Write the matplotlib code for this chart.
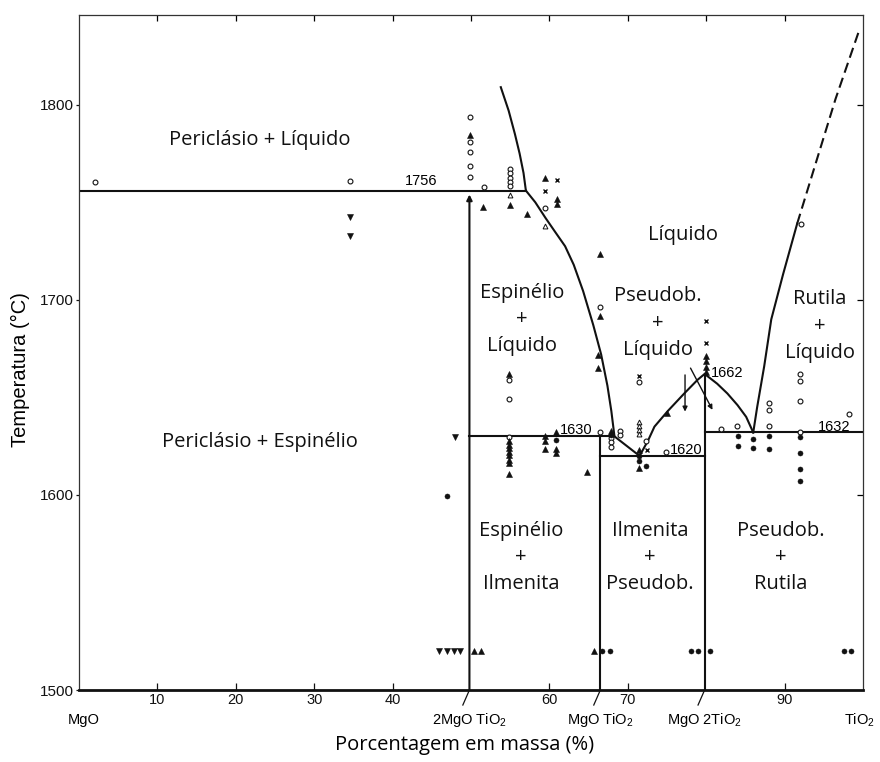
import matplotlib
matplotlib.use("Agg")
import matplotlib.pyplot as plt

plt.rcParams['font.family'] = ['Liberation Sans', 'DejaVu Sans']
plt.rcParams['mathtext.fontset'] = 'custom'
plt.rcParams['mathtext.rm'] = 'Liberation Sans'
plt.rcParams['mathtext.it'] = 'Liberation Sans:italic'

LABEL_FONT = ['Open Sans', 'DejaVu Sans']

# ---- compositions of the compounds (wt% TiO2) ----
x_mg2tio4 = 49.8
x_mgtio3 = 66.5
x_mgti2o5 = 79.8

# ---- invariant temperatures (°C) ----
T_eut_per = 1756
T_peritectic = 1630
T_eut_ilm = 1620
T_melt_pse = 1662
T_eut_rut = 1632

# liquid compositions at the invariants
x_liq_per = 57.0
x_liq_peri = 68.3
x_liq_ilm = 71.5
x_liq_rut = 86.0

# ---- liquidus curves ----
per_liq_x = [53.8, 54.8, 55.6, 56.2, 56.7, x_liq_per]
per_liq_T = [1809, 1797, 1785, 1775, 1765, T_eut_per]

spi_liq_x = [x_liq_per, 58.2, 59.5, 60.7, 62.0, 63.1, 64.3, 65.6, 66.6, 67.4, 67.9, x_liq_peri]
spi_liq_T = [T_eut_per, 1750, 1742, 1735, 1727.5, 1718, 1704.5, 1687, 1672, 1656, 1643, T_peritectic]

ilm_liq_x = [x_liq_peri, x_liq_ilm]
ilm_liq_T = [T_peritectic, T_eut_ilm]

pse_liq_x = [x_liq_ilm, 72.6, 73.4, 75.1, 77.2, 78.9, x_mgti2o5, 81.4, 82.7, 84.0, 85.1, x_liq_rut]
pse_liq_T = [T_eut_ilm, 1628, 1635, 1643, 1652, 1659, T_melt_pse, 1657, 1652, 1646, 1640, T_eut_rut]

rut_liq_x = [x_liq_rut, 86.5, 87.4, 88.3, 89.8, 91.6]
rut_liq_T = [T_eut_rut, 1645, 1666, 1690, 1713, 1739]

rut_ext_x = [91.6, 94.2, 96.5, 99.5]
rut_ext_T = [1739, 1773, 1803, 1838]

# ---- experimental points ----
open_circ_x = [2.0, 34.6, 49.9, 49.9, 49.9, 49.9, 49.9, 51.6,
               55.0, 55.0, 55.0, 55.0, 55.0, 59.5, 66.5,
               54.9, 54.9, 54.9, 71.4, 66.4, 67.9, 67.9, 67.9,
               69.0, 69.0, 72.3, 74.9, 81.9, 83.9,
               88.0, 88.0, 88.0, 92.0, 92.0, 92.0, 92.0, 98.2, 92.1]
open_circ_T = [1760.5, 1760.7, 1793.7, 1781, 1776, 1768.4, 1763.2, 1757.8,
               1767, 1764.8, 1762.6, 1760.4, 1758.5, 1747.3, 1696.2,
               1659, 1649.2, 1629.6, 1658, 1632, 1629, 1627, 1624.8,
               1633, 1630.5, 1627.8, 1622.2, 1633.8, 1635.4,
               1647, 1643.5, 1635.4, 1662, 1658.5, 1648.2, 1632, 1641.5, 1739]

open_tri_x = [55.0, 59.5, 71.4, 71.4, 71.4, 71.4]
open_tri_T = [1753.8, 1737.6, 1637.6, 1635.4, 1633.3, 1631.1]

fill_tri_x = [49.9, 51.5, 55.0, 57.1, 59.5, 61.0, 61.0, 66.5,
              66.5, 66.2, 66.2, 54.9, 75.0,
              80.0, 80.0, 80.0, 80.0,
              54.9, 54.9, 54.9, 54.9, 54.9, 54.9, 54.9, 54.9,
              59.4, 59.4, 59.4, 60.9, 60.9, 60.9, 64.8, 67.9,
              71.4, 71.4, 50.4, 51.3, 65.7]
fill_tri_T = [1784.5, 1747.5, 1748.7, 1744, 1762.4, 1751.8, 1749.1, 1723.6,
              1691.5, 1671.8, 1665, 1662, 1642.2,
              1671, 1668.4, 1665.8, 1663.2,
              1627.4, 1625.6, 1624, 1622.2, 1620.5, 1618, 1616.3, 1610.6,
              1630.3, 1627.4, 1623.6, 1632, 1623.6, 1621.7, 1611.9, 1633,
              1623, 1613.7, 1520, 1520, 1520]

down_tri_x = [34.6, 34.6, 48.0, 45.9, 46.9, 47.8, 48.6]
down_tri_T = [1742.7, 1732.8, 1629.6, 1520, 1520, 1520, 1520]

fill_circ_x = [46.9, 67.9, 72.3, 60.9, 71.4, 71.4,
               84.0, 84.0, 86.0, 86.0, 88.0, 88.0,
               92.0, 92.0, 92.0, 92.0,
               66.7, 67.7, 78.1, 78.9, 80.5, 97.6, 98.5]
fill_circ_T = [1599.5, 1630.8, 1614.9, 1628.2, 1620, 1617.5,
               1630.3, 1625.3, 1628.5, 1624.3, 1630.3, 1623.4,
               1629.6, 1621.7, 1613.2, 1607.2,
               1520, 1520, 1520, 1520, 1520, 1520, 1520]

cross_x = [59.5, 61.0, 71.4, 72.5, 80.0, 80.0]
cross_T = [1755.9, 1761.2, 1661, 1623, 1688.9, 1677.8]

# ---- axis ticks and compound labels ----
x_ticks = [10, 20, 30, 40, 60, 70, 90]
y_ticks = [1500, 1600, 1700, 1800]
compound_x = [0.6, x_mg2tio4, x_mgtio3, x_mgti2o5, 99.6]
compound_labels = ['MgO', '2MgO TiO$_2$', 'MgO TiO$_2$', 'MgO 2TiO$_2$', 'TiO$_2$']
leader_x = [x_mg2tio4, x_mgtio3, x_mgti2o5]

# ---- phase-field labels ----
field_labels = [
    ('Periclásio + Líquido', 23.1, 1782),
    ('Periclásio + Espinélio', 23.1, 1627),
    ('Líquido', 77.1, 1733),
    ('Espinélio\n+\nLíquido', 56.5, 1690),
    ('Pseudob.\n+\nLíquido', 73.8, 1688),
    ('Rutila\n+\nLíquido', 94.5, 1686.5),
    ('Espinélio\n+\nIlmenita', 56.4, 1568),
    ('Ilmenita\n+\nPseudob.', 72.8, 1568),
    ('Pseudob.\n+\nRutila', 89.5, 1568),
]

fig = plt.figure(figsize=(8.8, 7.62), dpi=100)
ax = fig.add_axes([79 / 880, 1 - 690 / 762, 784 / 880, 675 / 762])
ax.set_xlim(0, 100)
ax.set_ylim(1500, 1846)

k = '#111111'
lw = 1.5

# liquidus curves
ax.plot(per_liq_x, per_liq_T, color=k, lw=lw)
ax.plot(spi_liq_x, spi_liq_T, color=k, lw=lw)
ax.plot(ilm_liq_x, ilm_liq_T, color=k, lw=lw)
ax.plot(pse_liq_x, pse_liq_T, color=k, lw=lw)
ax.plot(rut_liq_x, rut_liq_T, color=k, lw=lw)
ax.plot(rut_ext_x, rut_ext_T, color=k, lw=lw, dashes=(5, 2.6))

# invariant horizontals
ax.plot([0, x_liq_per], [T_eut_per] * 2, color=k, lw=lw)
ax.plot([x_mg2tio4, x_liq_peri], [T_peritectic] * 2, color=k, lw=lw)
ax.plot([x_mgtio3, x_mgti2o5], [T_eut_ilm] * 2, color=k, lw=lw)
ax.plot([x_mgti2o5, 100], [T_eut_rut] * 2, color=k, lw=lw)

# compound verticals
ax.annotate('', xy=(x_mg2tio4, T_eut_per - 2), xytext=(x_mg2tio4, 1500),
            arrowprops=dict(arrowstyle='-|>', color=k, lw=lw, mutation_scale=8,
                            shrinkA=0, shrinkB=0))
ax.plot([x_mgtio3, x_mgtio3], [1500, T_peritectic], color=k, lw=lw)
ax.plot([x_mgti2o5, x_mgti2o5], [1500, T_melt_pse], color=k, lw=lw)

# arrows in the Pseudob. + Líquido field
for (x0, y0), (x1, y1) in [((77.3, 1661.5), (77.3, 1642.7)),
                           ((78.0, 1665.0), (80.8, 1643.6))]:
    ax.annotate('', xy=(x1, y1), xytext=(x0, y0),
                arrowprops=dict(arrowstyle='-|>', color=k, lw=1.0,
                                mutation_scale=7, shrinkA=0, shrinkB=0))

# experimental points
ax.plot(open_circ_x, open_circ_T, 'o', ms=3.5, mfc='white', mec=k, mew=0.8, ls='none')
ax.plot(open_tri_x, open_tri_T, '^', ms=3.5, mfc='white', mec=k, mew=0.7, ls='none')
ax.plot(fill_tri_x, fill_tri_T, '^', ms=3.7, mfc=k, mec=k, mew=0.4, ls='none')
ax.plot(down_tri_x, down_tri_T, 'v', ms=3.7, mfc=k, mec=k, mew=0.4, ls='none')
ax.plot(fill_circ_x, fill_circ_T, 'o', ms=3.6, mfc=k, mec=k, mew=0.4, ls='none')
ax.plot(cross_x, cross_T, 'x', ms=3.2, mec=k, mew=1.0, ls='none')

# invariant temperature labels
ax.text(43.7, T_eut_per + 4.7, f'{T_eut_per}', fontsize=10.5, ha='center', va='center')
ax.text(63.4, T_peritectic + 3.3, f'{T_peritectic}', fontsize=10.5, ha='center', va='center')
ax.text(77.5, T_eut_ilm + 3.0, f'{T_eut_ilm}', fontsize=10.5, ha='center', va='center')
ax.text(82.7, T_melt_pse + 0.7, f'{T_melt_pse}', fontsize=10.5, ha='center', va='center')
ax.text(96.3, T_eut_rut + 3.0, f'{T_eut_rut}', fontsize=10.5, ha='center', va='center')

# phase-field labels
for txt, x, y in field_labels:
    ax.text(x, y, txt, family=LABEL_FONT, fontsize=14.5, ha='center', va='center',
            linespacing=1.45, color='#111111')

# spines
for side in ['left', 'right', 'top']:
    ax.spines[side].set_linewidth(0.9)
    ax.spines[side].set_color('#333333')
ax.spines['bottom'].set_linewidth(2.0)
ax.spines['bottom'].set_color(k)

# ticks
ax.set_xticks(x_ticks)
ax.set_xticklabels([str(v) for v in x_ticks], fontsize=10.5)
ax.set_yticks(y_ticks)
ax.set_yticklabels([str(v) for v in y_ticks], fontsize=11)
ax.tick_params(axis='x', direction='in', length=5, width=0.9, pad=2.5, colors=k)
ax.tick_params(axis='y', direction='out', length=2.5, width=0.9, pad=1.5, colors=k)

top = ax.secondary_xaxis('top')
top.set_xticks(x_ticks + [50, 80])
top.tick_params(direction='in', length=4, width=0.9, labeltop=False)
top.spines['top'].set_visible(False)
right = ax.secondary_yaxis('right')
right.set_yticks([1600, 1700, 1800])
right.tick_params(direction='in', length=4, width=0.9, labelright=False)
right.spines['right'].set_visible(False)

# compound labels along the composition axis
for xc, lab in zip(compound_x, compound_labels):
    ax.text(xc, 1484.6, lab, fontsize=10.5, ha='center', va='center', clip_on=False)
for xc in leader_x:
    ax.plot([xc, xc - 0.84], [1500, 1492.3], color=k, lw=0.9, clip_on=False)

fig.text(465 / 880, 1 - 745 / 762, 'Porcentagem em massa (%)', family=LABEL_FONT,
         fontsize=14.5, ha='center', va='center')
fig.text(20 / 880, 1 - 370 / 762, 'Temperatura (°C)', fontsize=14.5,
         rotation=90, ha='center', va='center')

fig.savefig('out.png', dpi=100, facecolor='white')
